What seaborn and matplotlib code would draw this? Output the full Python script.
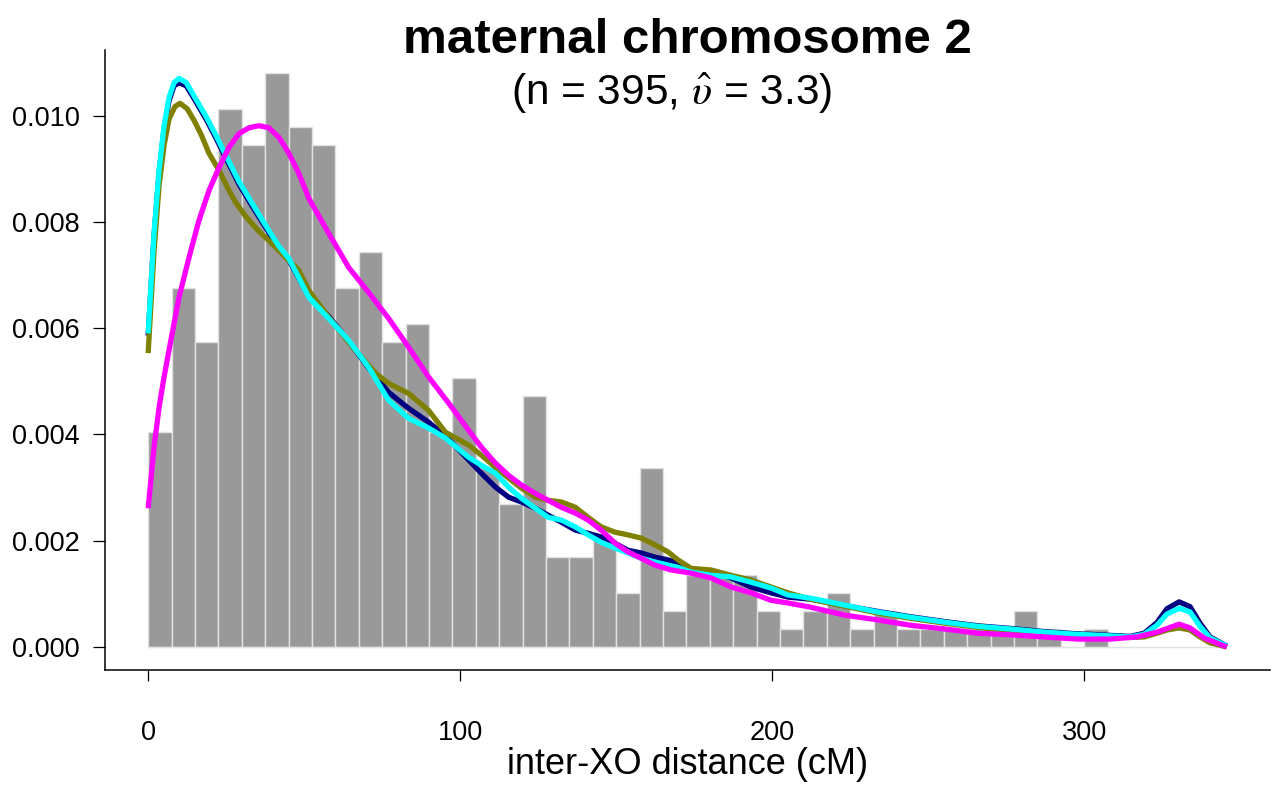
import numpy as np
import pandas as pd
import matplotlib
matplotlib.use("Agg")
import matplotlib.pyplot as plt
import seaborn as sns

# ---------------- data ----------------
N_OBS = 395
BIN_WIDTH = 7.5
hist_counts = [12, 20, 17, 30, 28, 32, 29, 28, 20, 22, 17, 18, 12, 15, 10, 8, 14, 5, 5, 6,
               3, 10, 2, 4, 4, 4, 2, 1, 2, 3, 1, 2, 1, 1, 1, 1, 1, 2, 1, 0, 1]

# density curves (x in cM, y in 1e-3 density units)
grid_x = [0, 1.9, 3.5, 5.1, 6.7, 8.3, 9.9, 12.2, 14.1, 16.3, 18.6, 21.8, 24.9, 29.1, 33.3, 37.7,
          41.9, 45.1, 51.5, 57.9, 64.3, 70.7, 77.1, 83.5, 89.9, 95.3, 102.7, 106.8, 111.3, 115.5,
          119.6, 124.1, 128.2, 132.4, 136.9, 141.0, 145.2, 149.7, 153.8, 158.0, 162.5, 166.6,
          169.8, 174.0, 180.4, 186.8, 193.2, 199.6, 205.0, 212.3, 223.2, 233.8, 244.3, 255.2,
          265.8, 276.3, 287.2, 297.7, 308.3, 314.7, 319.2, 323.3, 326.5, 330.4, 333.9, 337.1,
          340.3, 345.7]
cyan_y = [5.90, 7.80, 8.97, 9.81, 10.34, 10.62, 10.70, 10.62, 10.43, 10.21, 9.98, 9.62, 9.25,
          8.76, 8.35, 7.93, 7.54, 7.31, 6.58, 6.18, 5.77, 5.26, 4.64, 4.30, 4.12, 3.93, 3.57,
          3.42, 3.27, 3.01, 2.80, 2.61, 2.44, 2.39, 2.26, 2.11, 1.97, 1.86, 1.77, 1.67, 1.60,
          1.54, 1.50, 1.41, 1.35, 1.32, 1.22, 1.11, 0.98, 0.92, 0.79, 0.66, 0.56, 0.47, 0.39,
          0.34, 0.28, 0.24, 0.21, 0.19, 0.24, 0.41, 0.62, 0.73, 0.66, 0.39, 0.17, 0.02]
navy_y = [5.86, 7.75, 8.92, 9.75, 10.28, 10.56, 10.62, 10.56, 10.38, 10.16, 9.93, 9.57, 9.20,
          8.71, 8.30, 7.89, 7.50, 7.28, 6.60, 6.22, 5.75, 5.25, 4.79, 4.49, 4.23, 3.97, 3.52,
          3.27, 3.01, 2.82, 2.73, 2.61, 2.48, 2.35, 2.20, 2.14, 2.07, 1.95, 1.82, 1.77, 1.69,
          1.64, 1.58, 1.45, 1.41, 1.30, 1.13, 1.02, 0.94, 0.90, 0.78, 0.67, 0.57, 0.48, 0.40,
          0.35, 0.29, 0.25, 0.22, 0.20, 0.26, 0.46, 0.72, 0.85, 0.76, 0.45, 0.19, 0.02]
olive_x = [0, 1.9, 3.5, 5.1, 6.7, 8.6, 10.2, 12.5, 14.7, 17.0, 19.5, 22.7, 25.9, 28.1, 31.3,
           35.5, 39.7, 44.1, 48.3, 51.5, 57.9, 66.5, 72.9, 77.1, 83.5, 89.9, 95.3, 102.7, 106.8,
           111.3, 115.5, 119.6, 124.1, 128.2, 132.4, 136.9, 141.0, 145.2, 149.7, 153.8, 158.0,
           162.5, 166.6, 169.8, 174.0, 180.4, 186.8, 193.2, 199.6, 205.0, 212.3, 223.2, 233.8,
           244.3, 255.2, 265.8, 276.3, 287.2, 297.7, 308.3, 314.7, 319.2, 323.3, 326.5, 330.4,
           333.9, 337.1, 340.3, 345.7]
olive_y = [5.53, 7.46, 8.68, 9.44, 9.94, 10.17, 10.23, 10.13, 9.91, 9.64, 9.29, 8.97, 8.59,
           8.36, 8.10, 7.82, 7.59, 7.33, 7.09, 6.71, 6.20, 5.58, 5.15, 4.96, 4.77, 4.45, 4.04,
           3.80, 3.61, 3.38, 3.18, 2.99, 2.82, 2.76, 2.73, 2.63, 2.44, 2.26, 2.16, 2.11, 2.05,
           1.92, 1.79, 1.64, 1.48, 1.45, 1.35, 1.26, 1.13, 1.02, 0.90, 0.77, 0.64, 0.54, 0.45,
           0.37, 0.32, 0.27, 0.23, 0.20, 0.18, 0.19, 0.26, 0.32, 0.36, 0.32, 0.19, 0.08, 0.0]
magenta_x = [0, 1.9, 3.5, 5.1, 7.4, 9.9, 13.1, 16.3, 19.5, 22.7, 25.9, 29.1, 32.3, 35.5, 38.7,
             41.9, 45.1, 48.3, 51.5, 57.9, 64.3, 70.7, 77.1, 83.5, 89.9, 96.3, 102.7, 106.8,
             111.3, 115.5, 119.6, 124.1, 128.2, 132.4, 136.9, 141.0, 145.2, 149.7, 153.8, 158.0,
             162.5, 167.6, 174.0, 180.4, 186.8, 193.2, 199.6, 205.0, 212.3, 223.2, 233.8, 244.3,
             255.2, 265.8, 276.3, 287.2, 297.7, 308.3, 316.9, 323.3, 330.4, 333.9, 338.4, 345.7]
magenta_y = [2.61, 3.76, 4.51, 5.08, 5.81, 6.58, 7.33, 8.03, 8.59, 9.02, 9.40, 9.66, 9.77, 9.81,
             9.77, 9.59, 9.29, 8.91, 8.44, 7.78, 7.14, 6.67, 6.18, 5.64, 5.08, 4.59, 4.08, 3.76,
             3.46, 3.23, 3.05, 2.89, 2.76, 2.63, 2.52, 2.39, 2.20, 1.95, 1.79, 1.67, 1.54, 1.45,
             1.39, 1.30, 1.13, 1.02, 0.88, 0.83, 0.75, 0.60, 0.51, 0.41, 0.34, 0.26, 0.23, 0.19,
             0.15, 0.15, 0.19, 0.28, 0.43, 0.36, 0.17, 0.0]

x_ticks = [0, 100, 200, 300]
y_ticks = [0.000, 0.002, 0.004, 0.006, 0.008, 0.010]
title_text = "maternal chromosome 2"
subtitle_text = r"(n = 395, $\hat{\upsilon}$ = 3.3)"
xlabel_text = "inter-XO distance (cM)"

# ---------------- style ----------------
sns.set_style("ticks")
plt.rcParams["font.family"] = ["Liberation Sans", "DejaVu Sans"]
plt.rcParams["mathtext.fontset"] = "stix"
plt.rcParams["text.color"] = "black"
plt.rcParams["axes.labelcolor"] = "black"
plt.rcParams["xtick.color"] = "black"
plt.rcParams["ytick.color"] = "black"

W, H = 1273, 786
fig = plt.figure(figsize=(W / 100, H / 100), dpi=100)
ax_l, ax_r, ax_t, ax_b = 105, 1270, 50, 670
ax = fig.add_axes([ax_l / W, 1 - ax_b / H, (ax_r - ax_l) / W, (ax_b - ax_t) / H])

# histogram
counts = np.array(hist_counts, dtype=float)
edges = [i * BIN_WIDTH for i in range(len(hist_counts) + 1)]
centers = [e + BIN_WIDTH / 2 for e in edges[:-1]]
dens = counts / (N_OBS * BIN_WIDTH)
hist_df = pd.DataFrame({"x": centers, "w": dens})
sns.histplot(data=hist_df, x="x", weights="w", bins=edges, stat="count",
             color="#999999", edgecolor="#e2e2e2", linewidth=1.0, alpha=1.0, ax=ax)

# baseline
all_x = np.concatenate([grid_x, olive_x, magenta_x])
ax.hlines(0, 0, all_x.max(), color="#e2e2e2", lw=1.0, zorder=1.5)

curves = [
    (grid_x, navy_y, "#000080"),
    (olive_x, olive_y, "#808000"),
    (grid_x, cyan_y, "#00FFFF"),
    (magenta_x, magenta_y, "#FF00FF"),
]
for cx, cy, col in curves:
    df = pd.DataFrame({"x": cx, "y": np.array(cy) * 1e-3})
    sns.lineplot(data=df, x="x", y="y", sort=False, estimator=None, color=col,
                 lw=3.8, ax=ax, solid_capstyle="butt", solid_joinstyle="round")

# limits (R-style 4% expansion)
xmax = all_x.max()
ax.set_xlim(-0.04 * xmax, xmax * 1.04)
ymax = dens.max()
ax.set_ylim(-0.04 * ymax, ymax * 1.04)

ax.set_xticks(x_ticks)
ax.set_xticklabels([str(v) for v in x_ticks])
ax.set_yticks(y_ticks)
ax.set_yticklabels([f"{v:.3f}" for v in y_ticks])
ax.tick_params(axis="y", length=9, width=0.9, pad=9, labelsize=19.5, direction="out", colors="black")
ax.tick_params(axis="x", length=8, width=0.9, pad=28, labelsize=19.5, direction="out", colors="black")

sns.despine(ax=ax)
for s in ["left", "bottom"]:
    ax.spines[s].set_linewidth(1.1)
    ax.spines[s].set_color("black")

ax.set_ylabel("")
ax.set_xlabel(xlabel_text, fontsize=26, va="center", color="black")
ax.xaxis.set_label_coords(0.5, (ax_b - 765) / (ax_b - ax_t))

cx_fig = (ax_l + ax_r) / 2 / W
fig.text(cx_fig, 1 - 53 / H, title_text, ha="center", va="baseline",
         fontsize=35.5, fontweight="bold", color="black")
fig.text(672 / W, 1 - 105 / H, subtitle_text, ha="center", va="baseline", fontsize=30.5,
         color="black")

fig.savefig("out.png", dpi=100)
